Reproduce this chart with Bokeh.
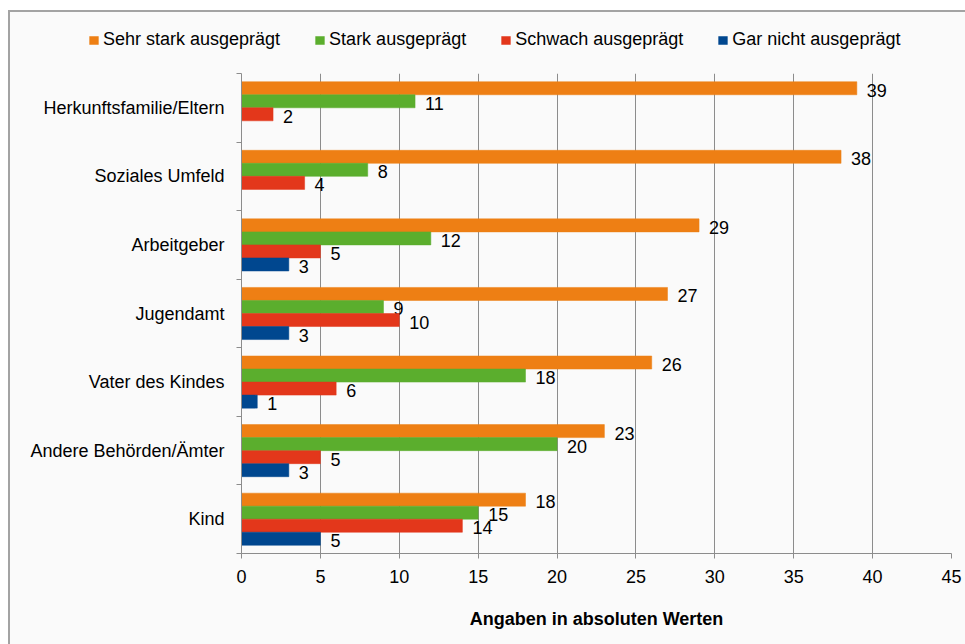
from bokeh.plotting import figure
from bokeh.layouts import column
from bokeh.models import Range1d, FixedTicker, Legend, LegendItem, ColumnDataSource
from bokeh.core.properties import value
from bokeh.embed import file_html
from bokeh.resources import INLINE

categories = ["Herkunftsfamilie/Eltern", "Soziales Umfeld", "Arbeitgeber", "Jugendamt",
              "Vater des Kindes", "Andere Behörden/Ämter", "Kind"]
series_names = ["Sehr stark ausgeprägt", "Stark ausgeprägt", "Schwach ausgeprägt", "Gar nicht ausgeprägt"]
sehr_stark = [39, 38, 29, 27, 26, 23, 18]
stark = [11, 8, 12, 9, 18, 20, 15]
schwach = [2, 4, 5, 10, 6, 5, 14]
gar_nicht = [0, 0, 3, 3, 1, 3, 5]
x_ticks = [0, 5, 10, 15, 20, 25, 30, 35, 40, 45]
colors = ["#EE7F14", "#5BAE2D", "#E3371B", "#00478F"]

FONT = "Liberation Sans"
FS = "18px"
BG = "#fafafa"
AX = "#8c8c8c"
n = len(categories)
h = 0.19

# ---------------- main chart ----------------
p = figure(width=955, height=579, output_backend="svg", toolbar_location=None,
           x_range=Range1d(0, 45), y_range=Range1d(n, 0),
           min_border_left=231, min_border_right=14, min_border_top=8, min_border_bottom=91)
p.frame_align = False
p.background_fill_color = BG
p.border_fill_color = BG
p.outline_line_color = None

# ---------------- legend strip ----------------
lg = figure(width=955, height=53, output_backend="svg", toolbar_location=None,
            x_range=Range1d(0, 1), y_range=Range1d(0, 1), x_axis_type=None, y_axis_type=None,
            min_border_left=0, min_border_right=0, min_border_top=0, min_border_bottom=0)
lg.frame_align = False
lg.background_fill_color = BG
lg.border_fill_color = BG
lg.outline_line_color = None

all_series = [sehr_stark, stark, schwach, gar_nicht]
offsets = [-1.5 * h, -0.5 * h, 0.5 * h, 1.5 * h]
lg_renderers = []
for vals, off, col in zip(all_series, offsets, colors):
    ys = [i + 0.5 + off for i in range(n)]
    src = ColumnDataSource(dict(y=ys, right=vals))
    p.hbar(y="y", right="right", left=0, height=h, source=src,
           fill_color=col, line_color=col, line_alpha=0.5, line_width=1)
    # hidden twin in the legend strip, only used to draw the legend swatch
    r = lg.hbar(y="y", right="right", left=0, height=h, source=src,
                fill_color=col, line_color=col, line_alpha=0.5, line_width=1, visible=False)
    lg_renderers.append(r)
    lx = [v for v in vals if v > 0]
    ly = [y for y, v in zip(ys, vals) if v > 0]
    p.text(x=lx, y=ly, text=[str(v) for v in lx], x_offset=10, y_offset=2,
           text_align="left", text_baseline="middle", text_font=value(FONT),
           text_font_size=FS, text_color="#000000")

p.xaxis.ticker = FixedTicker(ticks=x_ticks)
p.xaxis.axis_line_color = AX
p.xaxis.major_tick_line_color = AX
p.xaxis.major_tick_in = 0
p.xaxis.major_tick_out = 5
p.xaxis.minor_tick_line_color = None
p.xaxis.major_label_text_font = FONT
p.xaxis.major_label_text_font_size = FS
p.xaxis.major_label_text_color = "#000000"
p.xaxis.major_label_standoff = 11
p.xaxis.axis_label = "Angaben in absoluten Werten"
p.xaxis.axis_label_text_font = FONT
p.xaxis.axis_label_text_font_size = "18px"
p.xaxis.axis_label_text_font_style = "bold"
p.xaxis.axis_label_text_color = "#000000"
p.xaxis.axis_label_standoff = 23

p.yaxis.ticker = FixedTicker(ticks=[i + 0.5 for i in range(n)], minor_ticks=list(range(n + 1)))
p.yaxis.major_label_overrides = {i + 0.5: c for i, c in enumerate(categories)}
p.yaxis.axis_line_color = AX
p.yaxis.major_tick_line_color = None
p.yaxis.major_tick_out = 5
p.yaxis.major_tick_in = 0
p.yaxis.minor_tick_line_color = AX
p.yaxis.minor_tick_in = 0
p.yaxis.minor_tick_out = 5
p.yaxis.major_label_text_font = FONT
p.yaxis.major_label_text_font_size = FS
p.yaxis.major_label_text_color = "#000000"
p.yaxis.major_label_standoff = 12

p.xgrid.ticker = FixedTicker(ticks=x_ticks)
p.xgrid.grid_line_color = AX
p.ygrid.grid_line_color = None

legend = Legend(items=[LegendItem(label=s, renderers=[r]) for s, r in zip(series_names, lg_renderers)],
                orientation="horizontal", location=(78, 15),
                glyph_width=11, glyph_height=10, label_standoff=4, spacing=34, padding=0, margin=0,
                label_text_font=FONT, label_text_font_size=FS, label_text_color="#000000",
                background_fill_alpha=0, border_line_color=None, label_height=20)
lg.add_layout(legend)

layout = column(lg, p, spacing=0, margin=(10, 0, 0, 8),
                styles={"border-left": "2px solid #a3a3a3", "border-top": "2px solid #a3a3a3",
                        "background-color": BG})

open("out.html", "w").write(file_html(layout, INLINE))
